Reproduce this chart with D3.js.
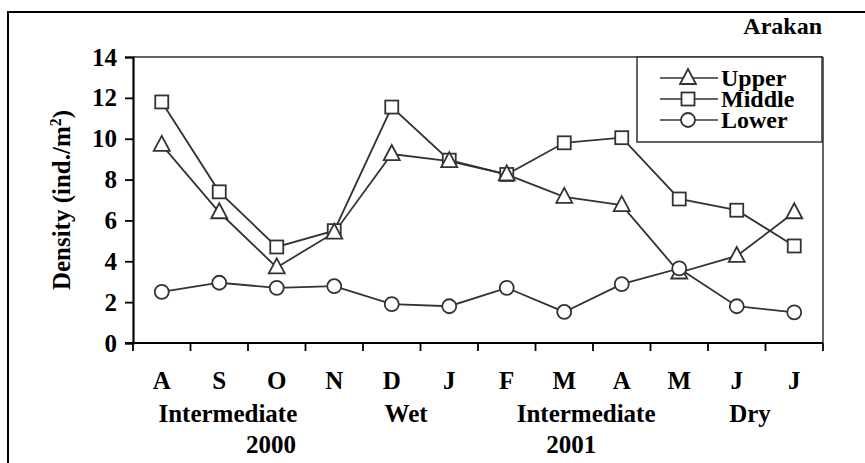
<!DOCTYPE html>
<html><head><meta charset="utf-8">
<script src="https://cdn.jsdelivr.net/npm/d3@7"></script>
<style>html,body{margin:0;padding:0;background:#fff;}svg{display:block;}
</style>
</head><body>
<svg id="c" width="865" height="463"></svg>
<script>
const months = ["A","S","O","N","D","J","F","M","A","M","J","J"];
const upper  = [9.7, 6.4, 3.7, 5.4, 9.25, 8.9, 8.25, 7.15, 6.75, 3.45, 4.26, 6.4];
const middle = [11.8, 7.4, 4.7, 5.5, 11.55, 8.95, 8.25, 9.8, 10.05, 7.05, 6.5, 4.75];
const lower  = [2.5, 2.95, 2.7, 2.78, 1.9, 1.8, 2.7, 1.52, 2.88, 3.65, 1.8, 1.5];
const yTicks = [0, 2, 4, 6, 8, 10, 12, 14];
const seasons = ["Intermediate", "Wet", "Intermediate", "Dry"];
const years = ["2000", "2001"];
const title = "Arakan";

const svg = d3.select("#c");
const W = 865, H = 463;
const m = {left:133, right:823, top:57, bottom:343};
const INK = "#333";
const FAM = "Liberation Serif, Times New Roman, serif";
function T(sel, size){
  return sel.attr("font-family", FAM).attr("font-weight","bold").attr("font-size", size).attr("fill","#000");
}

svg.append("rect").attr("x",8).attr("y",12).attr("width",W+10).attr("height",H+10)
  .attr("fill","none").attr("stroke","#000").attr("stroke-width",2);

const idx = d3.range(months.length);
const x = d3.scaleBand().domain(idx).range([m.left, m.right]).padding(0);
const xc = i => x(i) + x.bandwidth()/2;
const xi = d3.scaleLinear().domain([-0.5, months.length-0.5]).range([m.left, m.right]);
const y = d3.scaleLinear().domain([0,14]).range([m.bottom, m.top]);

svg.append("line").attr("x1",m.left).attr("x2",m.right).attr("y1",m.top).attr("y2",m.top)
  .attr("stroke",INK).attr("stroke-width",1.5);
svg.append("line").attr("x1",m.right).attr("x2",m.right).attr("y1",m.top).attr("y2",m.bottom)
  .attr("stroke",INK).attr("stroke-width",1.5);

const yAxis = d3.axisLeft(y).tickValues(yTicks).tickSize(8).tickPadding(8).tickFormat(d3.format("d"));
const gy = svg.append("g").attr("transform",`translate(${m.left},0)`).call(yAxis);
gy.select(".domain").attr("stroke","#000").attr("stroke-width",2.2);
gy.selectAll(".tick line").attr("stroke","#000").attr("stroke-width",1.8);
T(gy.selectAll(".tick text"), 25);

const boundaries = d3.range(months.length+1).map(i => m.left + i*x.bandwidth());
const gx = svg.append("g");
gx.append("line").attr("x1",m.left-8).attr("x2",m.right).attr("y1",m.bottom).attr("y2",m.bottom)
  .attr("stroke","#000").attr("stroke-width",2.2);
gx.selectAll("line.t").data(boundaries).join("line").attr("class","t")
  .attr("x1",d=>d).attr("x2",d=>d).attr("y1",m.bottom).attr("y2",m.bottom+8)
  .attr("stroke","#000").attr("stroke-width",1.8);
T(gx.selectAll("text.m").data(idx).join("text").attr("class","m")
  .attr("x",i=>xc(i)).attr("y",389).attr("text-anchor","middle"), 25)
  .text(i=>months[i]);

const seasonAt = [1.15, 4.25, 7.38, 10.23];
T(svg.selectAll("text.s").data(seasons).join("text").attr("class","s")
  .attr("x",(d,i)=>xi(seasonAt[i])).attr("y",422).attr("text-anchor","middle"), 25)
  .text(d=>d);
const yearAt = [1.9, 7.12];
T(svg.selectAll("text.yr").data(years).join("text").attr("class","yr")
  .attr("x",(d,i)=>xi(yearAt[i])).attr("y",453).attr("text-anchor","middle"), 25)
  .text(d=>d);

T(svg.append("text").attr("transform",`translate(70,${(m.top+m.bottom)/2}) rotate(-90)`)
  .attr("text-anchor","middle"), 25)
  .html('Density (ind./m<tspan dy="-9" font-size="16">2</tspan><tspan dy="9">)</tspan>');

T(svg.append("text").attr("x",822).attr("y",34).attr("text-anchor","end"), 24)
  .text(title);

const series = [
  {name:"Upper", values:upper, shape:"tri"},
  {name:"Middle", values:middle, shape:"sq"},
  {name:"Lower", values:lower, shape:"circ"}
];
const line = d3.line().x((d,i)=>xc(i)).y(d=>y(d));
function marker(g, shape, cx, cy){
  if(shape==="tri"){
    g.append("path").attr("d",`M${cx},${cy-9}L${cx+8},${cy+6}L${cx-8},${cy+6}Z`)
      .attr("fill","#fff").attr("stroke",INK).attr("stroke-width",1.8);
  } else if(shape==="sq"){
    g.append("rect").attr("x",cx-6.5).attr("y",cy-6.5).attr("width",13).attr("height",13)
      .attr("fill","#fff").attr("stroke",INK).attr("stroke-width",1.8);
  } else {
    g.append("circle").attr("cx",cx).attr("cy",cy).attr("r",7)
      .attr("fill","#fff").attr("stroke",INK).attr("stroke-width",1.8);
  }
}
series.forEach(s=>{
  svg.append("path").datum(s.values).attr("d",line).attr("fill","none")
    .attr("stroke",INK).attr("stroke-width",1.8);
});
[series[1], series[0], series[2]].forEach(s=>{
  const g = svg.append("g");
  s.values.forEach((v,i)=>marker(g, s.shape, xc(i), y(v)));
});

const lg = svg.append("g");
lg.append("rect").attr("x",637).attr("y",57).attr("width",185).attr("height",85)
  .attr("fill","#fff").attr("stroke",INK).attr("stroke-width",1.5);
series.forEach((s,i)=>{
  const ly = 78 + i*21;
  lg.append("line").attr("x1",660).attr("x2",718).attr("y1",ly).attr("y2",ly)
    .attr("stroke",INK).attr("stroke-width",1.5);
  marker(lg, s.shape, 688, ly);
  T(lg.append("text").attr("x",721).attr("y",ly+8), 24).text(s.name);
});
</script>
</body></html>
